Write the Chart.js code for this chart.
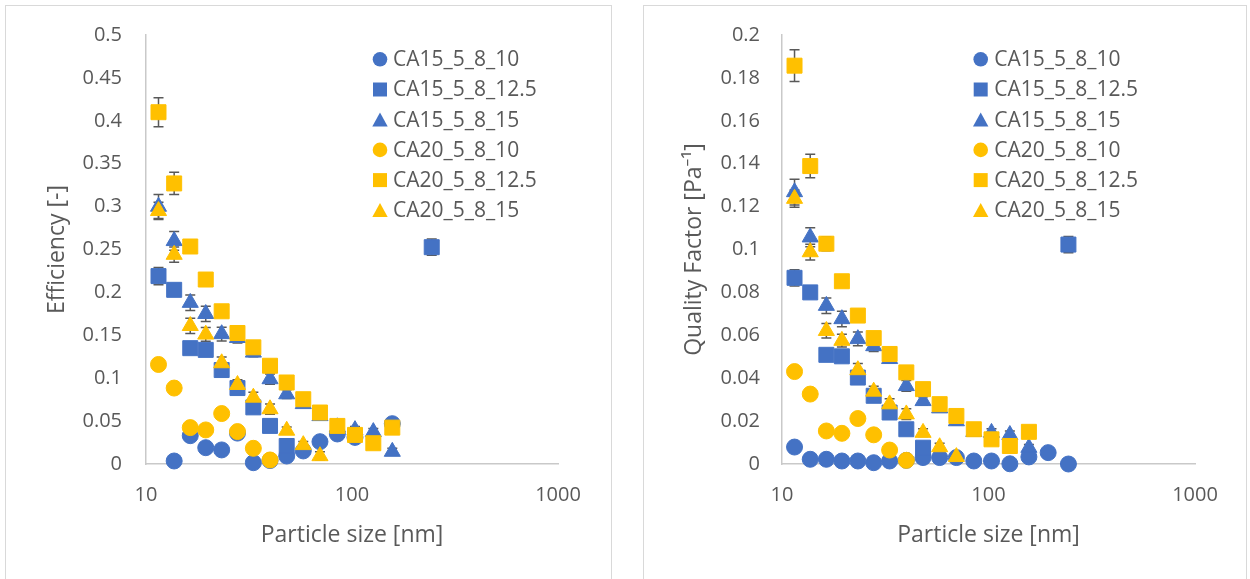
<!DOCTYPE html>
<html>
<head>
<meta charset="utf-8">
<script src="https://cdn.jsdelivr.net/npm/chart.js@4.4.1/dist/chart.umd.min.js"></script>
<style>
  html, body { margin: 0; padding: 0; background: #fff; width: 1250px; height: 579px; overflow: hidden; }
  .box { position: absolute; top: 5px; height: 600px; border: 1px solid #D9D9D9; background: #fff; }
  #boxEff { left: 5px; width: 605px; }
  #boxQf { left: 643px; width: 602px; }
  canvas { display: block; }
</style>
</head>
<body>
<div class="box" id="boxEff"><canvas id="eff" width="605" height="573"></canvas></div>
<div class="box" id="boxQf"><canvas id="qf" width="602" height="573"></canvas></div>
<script>
// particle size channels [nm]
const sizes = [11.5, 13.7, 16.4, 19.5, 23.3, 27.8, 33.2, 40.0, 48.2, 58.0, 69.9, 84.9, 103.4, 126.9, 156.9, 194.5, 243.8];
const seriesNames = ['CA15_5_8_10', 'CA15_5_8_12.5', 'CA15_5_8_15', 'CA20_5_8_10', 'CA20_5_8_12.5', 'CA20_5_8_15'];
const xTicks = [10, 100, 1000];

// Efficiency [-]
const effC15_10  = [null, 0.0035, 0.033, 0.019, 0.0164, 0.036, 0.0015, 0.004, 0.0093, 0.0152, 0.026, 0.035, 0.031, null, 0.047, null, null];
const effC15_125 = [0.219, 0.203, 0.135, 0.133, 0.1095, 0.0885, 0.066, 0.0444, 0.021, null, null, null, null, null, null, null, 0.2527];
const effC15_15  = [0.30, 0.26, 0.188, 0.175, 0.1515, 0.147, 0.13, 0.099, 0.0814, 0.07, 0.056, 0.043, 0.0397, 0.0374, 0.0144, null, null];
const effC20_10  = [0.116, 0.0885, 0.0424, 0.0397, 0.0588, 0.0378, 0.0183, 0.0047, null, null, null, null, null, null, null, null, null];
const effC20_125 = [0.41, 0.327, 0.2535, 0.215, 0.178, 0.1527, 0.136, 0.1145, 0.095, 0.0755, 0.060, 0.0444, 0.0339, 0.0242, 0.0424, null, null];
const effC20_15  = [0.295, 0.244, 0.161, 0.151, 0.1176, 0.0923, 0.0775, 0.064, 0.039, 0.0222, 0.0093, null, null, null, null, null, null];

// error bars (+/-) for efficiency
const errEffC15_10  = [0, 0.002, 0.002, 0.002, 0.002, 0.002, 0.001, 0.002, 0.002, 0.002, 0.002, 0.002, 0.002, 0, 0.002];
const errEffC15_125 = [0.01, 0.005, 0.004, 0.004, 0.004, 0.003, 0.003, 0.003, 0.003, 0, 0, 0, 0, 0, 0, 0, 0.0095];
const errEffC15_15  = [0.014, 0.011, 0.009, 0.009, 0.008, 0.006, 0.005, 0.006, 0.005, 0.004, 0.004, 0.004, 0.004, 0.004, 0.004];
const errEffC20_10  = [0.002, 0.002, 0.002, 0.002, 0.002, 0.002, 0.002, 0.002];
const errEffC20_125 = [0.017, 0.013, 0.008, 0.005, 0.004, 0.004, 0.004, 0.004, 0.003, 0.003, 0.003, 0.003, 0.003, 0.003, 0.003];
const errEffC20_15  = [0.01, 0.009, 0.009, 0.008, 0.007, 0.006, 0.006, 0.006, 0.004, 0.004, 0.005];

// Quality factor [Pa^-1]
const qfC15_10  = [0.0079, 0.0022, 0.0022, 0.0014, 0.0014, 0.0006, 0.0014, 0.0017, 0.003, 0.003, 0.003, 0.0014, 0.0014, 0.0001, 0.0033, 0.0053, 0.0];
const qfC15_125 = [0.0868, 0.080, 0.0509, 0.0502, 0.0403, 0.0318, 0.024, 0.0162, 0.0076, null, null, null, null, null, null, null, 0.1023];
const qfC15_15  = [0.1268, 0.1057, 0.0738, 0.0676, 0.0583, 0.055, 0.049, 0.0364, 0.0294, 0.026, 0.020, 0.015, 0.0146, 0.0136, 0.0076, null, null];
const qfC20_10  = [0.0431, 0.0326, 0.0154, 0.0143, 0.0212, 0.0136, 0.0065, 0.0017, null, null, null, null, null, null, null, null, null];
const qfC20_125 = [0.1857, 0.1389, 0.1027, 0.0852, 0.0692, 0.0587, 0.0513, 0.0427, 0.0349, 0.0279, 0.0224, 0.0162, 0.0115, 0.0084, 0.015, null, null];
const qfC20_15  = [0.1237, 0.0988, 0.0621, 0.0575, 0.0438, 0.0338, 0.0279, 0.0232, 0.0146, 0.0079, 0.0033, null, null, null, null, null, null];

// error bars (+/-) for quality factor
const errQfC15_10  = [0.001, 0.0008, 0.0008, 0.0008, 0.0008, 0.0005, 0.0008, 0.0008, 0.0008, 0.0008, 0.0008, 0.0008, 0.0008, 0, 0.0008, 0.0008, 0];
const errQfC15_125 = [0.0038, 0.002, 0.0016, 0.0016, 0.0015, 0.0013, 0.0012, 0.0012, 0.001, 0, 0, 0, 0, 0, 0, 0, 0.0038];
const errQfC15_15  = [0.006, 0.0044, 0.0036, 0.0036, 0.0032, 0.0025, 0.002, 0.0025, 0.002, 0.0018, 0.0018, 0.0018, 0.0018, 0.0018, 0.0015];
const errQfC20_10  = [0.0008, 0.0008, 0.0008, 0.0008, 0.0008, 0.0008, 0.0008, 0.0008];
const errQfC20_125 = [0.0074, 0.0055, 0.0033, 0.002, 0.0016, 0.0016, 0.0016, 0.0016, 0.0012, 0.0012, 0.0012, 0.0012, 0.0012, 0.0012, 0.0012];
const errQfC20_15  = [0.004, 0.0037, 0.0034, 0.003, 0.003, 0.0025, 0.0025, 0.0025, 0.0018, 0.0018, 0.0018];

const BLUE = '#4472C4';
const GOLD = '#FFC000';
const TEXT = '#595959';
const AXIS = '#C9C9C9';
const FONT = '"Open Sans", "Noto Sans", sans-serif';

const markerStyles = [
  { color: BLUE, shape: 'circle', r: 8 },
  { color: BLUE, shape: 'rect', r: 10.6 },
  { color: BLUE, shape: 'triangle', r: 9.3 },
  { color: GOLD, shape: 'circle', r: 8 },
  { color: GOLD, shape: 'rect', r: 10.6 },
  { color: GOLD, shape: 'triangle', r: 9.3 }
];

function points(values, errs) {
  return sizes
    .map((x, i) => ({ x, y: values[i], err: errs[i] || 0 }))
    .filter(p => p.y !== null && p.y !== undefined);
}

// ─── Error bars (drawn under the markers) ──────────────────────────────────
const errorBars = {
  id: 'errorBars',
  beforeDatasetsDraw(chart) {
    const { ctx } = chart;
    const xs = chart.scales.x, ys = chart.scales.y;
    ctx.save();
    ctx.strokeStyle = '#595959';
    ctx.lineWidth = 1.5;
    chart.data.datasets.forEach(ds => {
      ds.data.forEach(p => {
        if (!p.err) return;
        const x = xs.getPixelForValue(p.x);
        const yTop = ys.getPixelForValue(p.y + p.err);
        const yBot = ys.getPixelForValue(Math.max(p.y - p.err, 0));
        ctx.beginPath();
        ctx.moveTo(x, yTop); ctx.lineTo(x, yBot);
        ctx.moveTo(x - 5, yTop); ctx.lineTo(x + 5, yTop);
        ctx.moveTo(x - 5, yBot); ctx.lineTo(x + 5, yBot);
        ctx.stroke();
      });
    });
    ctx.restore();
  }
};

// ─── Legend drawn inside the plot, like Excel ─────────────────────────────
function drawMarker(ctx, shape, x, y, color) {
  ctx.fillStyle = color;
  ctx.beginPath();
  if (shape === 'circle') {
    ctx.arc(x, y, 7.3, 0, Math.PI * 2);
  } else if (shape === 'rect') {
    ctx.rect(x - 7, y - 7, 14, 14);
  } else {
    ctx.moveTo(x, y - 7.3);
    ctx.lineTo(x + 7.7, y + 6.7);
    ctx.lineTo(x - 7.7, y + 6.7);
    ctx.closePath();
  }
  ctx.fill();
}

const sideLegend = {
  id: 'sideLegend',
  afterDraw(chart, args, opts) {
    const ctx = chart.ctx;
    ctx.save();
    ctx.font = '21px ' + FONT;
    ctx.textBaseline = 'middle';
    chart.data.datasets.forEach((ds, i) => {
      const y = opts.top + i * opts.rowGap;
      drawMarker(ctx, markerStyles[i].shape, opts.markerX, y, markerStyles[i].color);
      ctx.fillStyle = TEXT;
      ctx.fillText(ds.label, opts.textX, y + 1);
    });
    ctx.restore();
  }
};

function makeChart(id, cfg) {
  const datasets = cfg.series.map((vals, i) => ({
    label: seriesNames[i],
    data: points(vals, cfg.errors[i]),
    pointStyle: markerStyles[i].shape,
    pointRadius: markerStyles[i].r,
    pointHoverRadius: markerStyles[i].r,
    backgroundColor: markerStyles[i].color,
    borderColor: markerStyles[i].color,
    borderWidth: 1,
    showLine: false,
    clip: false,
    order: seriesNames.length - i
  }));

  return new Chart(document.getElementById(id), {
    type: 'scatter',
    data: { datasets },
    options: {
      responsive: false,
      animation: false,
      events: [],
      layout: { padding: { top: 29, right: cfg.padRight, bottom: 0, left: 0 } },
      plugins: {
        legend: { display: false },
        tooltip: { enabled: false },
        sideLegend: cfg.legend
      },
      scales: {
        x: {
          type: 'logarithmic',
          min: 10,
          max: 1000,
          afterBuildTicks: s => { s.ticks = xTicks.map(v => ({ value: v })); },
          afterFit: s => { s.height = 115; },
          grid: { display: false, drawTicks: false },
          border: { display: true, color: AXIS, width: 1.5 },
          ticks: {
            color: TEXT, font: { family: FONT, size: 20 }, padding: 19,
            maxRotation: 0, autoSkip: false, callback: v => String(v)
          },
          title: {
            display: true, text: 'Particle size [nm]', color: TEXT,
            font: { family: FONT, size: 23 }, padding: { top: 0, bottom: 30 }
          }
        },
        y: {
          min: 0,
          max: cfg.yMax,
          afterFit: s => { s.width = cfg.axisLeft; s.paddingTop = 0; s.paddingBottom = 0; },
          grid: { display: false, drawTicks: false },
          border: { display: true, color: AXIS, width: 1.5 },
          ticks: {
            stepSize: cfg.yStep, color: TEXT, font: { family: FONT, size: 20 },
            padding: cfg.tickPad, callback: v => String(+v.toFixed(3))
          },
          title: {
            display: true, text: cfg.yTitle, color: TEXT,
            font: { family: FONT, size: 23 }, padding: { top: cfg.titlePad, bottom: 0 }
          }
        }
      }
    },
    plugins: [errorBars, sideLegend]
  });
}

makeChart('eff', {
  series: [effC15_10, effC15_125, effC15_15, effC20_10, effC20_125, effC20_15],
  errors: [errEffC15_10, errEffC15_125, errEffC15_15, errEffC20_10, errEffC20_125, errEffC20_15],
  yMax: 0.5, yStep: 0.05, yTitle: 'Efficiency [-]',
  axisLeft: 140, padRight: 53, tickPad: 24, titlePad: 38,
  legend: { markerX: 374, textX: 387, top: 53.3, rowGap: 30.2 }
});

makeChart('qf', {
  series: [qfC15_10, qfC15_125, qfC15_15, qfC20_10, qfC20_125, qfC20_15],
  errors: [errQfC15_10, errQfC15_125, errQfC15_15, errQfC20_10, errQfC20_125, errQfC20_15],
  yMax: 0.2, yStep: 0.02, yTitle: 'Quality Factor [Pa⁻¹]',
  axisLeft: 138, padRight: 51, tickPad: 22, titlePad: 37,
  legend: { markerX: 336.7, textX: 350.3, top: 53.3, rowGap: 30.2 }
});
</script>
</body>
</html>
